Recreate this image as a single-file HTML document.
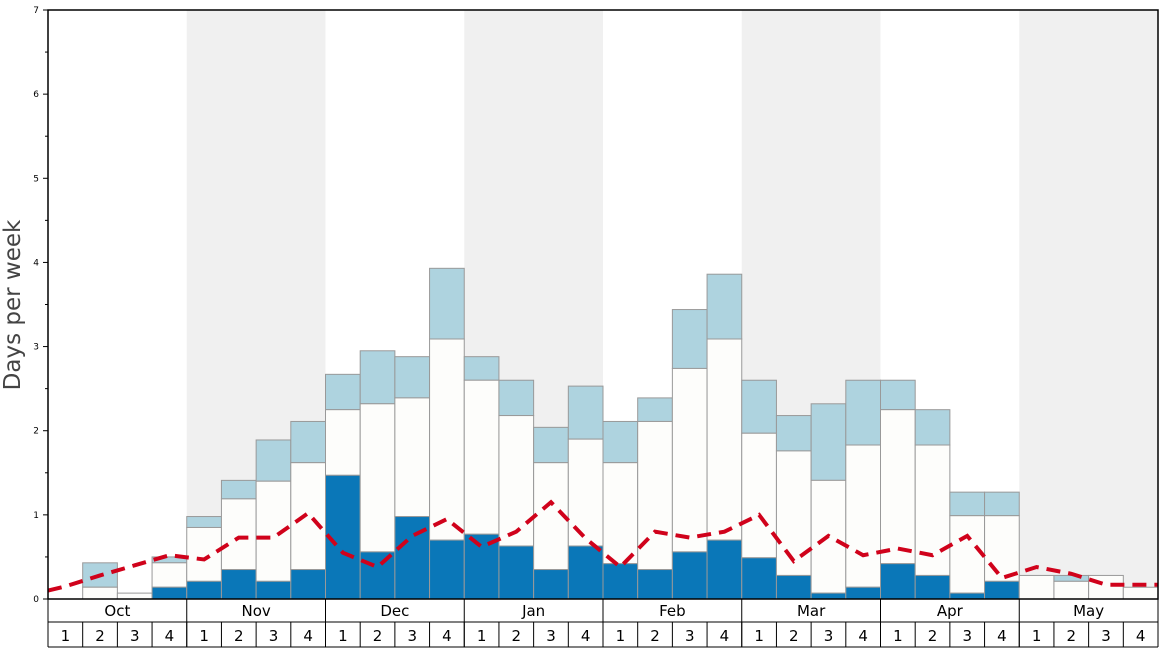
<!DOCTYPE html>
<html><head><meta charset="utf-8"><style>
body{margin:0;background:#fff;}
svg{display:block;font-family:"DejaVu Sans","Liberation Sans",sans-serif;}
</style></head><body>
<svg id="chart" width="1168" height="648">
<g id="bands"></g><g id="bars"></g><g id="line"></g><g id="axes"></g>
</svg>
<script>
const months=["Oct","Nov","Dec","Jan","Feb","Mar","Apr","May"];
const weekLabels=["1","2","3","4"];
const yTicks=[0,1,2,3,4,5,6,7];
const darkVals=[0,0,0,0.14,0.21,0.35,0.21,0.35,1.47,0.56,0.98,0.7,0.77,0.63,0.35,0.63,0.42,0.35,0.56,0.7,0.49,0.28,0.07,0.14,0.42,0.28,0.07,0.21,0,0,0,0];
const whiteTops=[0,0.14,0.07,0.43,0.85,1.19,1.4,1.62,2.25,2.32,2.39,3.09,2.6,2.18,1.62,1.9,1.62,2.11,2.74,3.09,1.97,1.76,1.41,1.83,2.25,1.83,0.99,0.99,0.28,0.21,0.28,0.14];
const lightTops=[0,0.43,0.07,0.5,0.98,1.41,1.89,2.11,2.67,2.95,2.88,3.93,2.88,2.6,2.04,2.53,2.11,2.39,3.44,3.86,2.6,2.18,2.32,2.6,2.6,2.25,1.27,1.27,0.28,0.28,0.28,0.14];
const lineVals=[0.15,0.28,0.4,0.52,0.47,0.73,0.73,1.02,0.55,0.38,0.75,0.95,0.62,0.8,1.15,0.72,0.38,0.8,0.73,0.8,1.0,0.45,0.75,0.52,0.6,0.52,0.75,0.25,0.38,0.3,0.17,0.17];
const X0=48,X1=1158,Y0=599,Y1=10,YMAX=7;
const n=darkVals.length, bw=(X1-X0)/n;
const xs=i=>X0+i*bw;
const ys=v=>Y0-(v/YMAX)*(Y0-Y1);
const NS="http://www.w3.org/2000/svg";
function mk(tag,attrs,parent,text){const e=document.createElementNS(NS,tag);for(const k in attrs)e.setAttribute(k,attrs[k]);if(text!==undefined)e.textContent=text;document.getElementById(parent)?document.getElementById(parent).appendChild(e):parent.appendChild(e);return e;}
// bands
months.forEach((m,i)=>{if(i%2===1){const r=mk('rect',{x:xs(i*4),y:Y1,width:bw*4,height:Y0-Y1,fill:'#f0f0f0'},'bands');

}});
// bars
for(let i=0;i<n;i++){
 const x=xs(i);
 if(lightTops[i]>whiteTops[i]){const r=mk('rect',{x:x,y:ys(lightTops[i]),width:bw,height:ys(whiteTops[i])-ys(lightTops[i]),fill:'#aed3df',stroke:'#999','stroke-width':1},'bars');
 
 }
 if(whiteTops[i]>darkVals[i]){const r=mk('rect',{x:x,y:ys(whiteTops[i]),width:bw,height:ys(darkVals[i])-ys(whiteTops[i]),fill:'#fdfdfb',stroke:'#999','stroke-width':1},'bars');
 
 }
 if(darkVals[i]>0){const r=mk('rect',{x:x,y:ys(darkVals[i]),width:bw,height:Y0-ys(darkVals[i]),fill:'#0a77b8',stroke:'#999','stroke-width':1},'bars');
 
 }
}
// line
let pts=[[X0,ys(0.1)]];
lineVals.forEach((v,i)=>pts.push([xs(i)+bw/2,ys(v)]));
pts.push([X1,ys(lineVals[n-1])]);
const pl=mk('polyline',{points:pts.map(p=>p.join(',')).join(' '),fill:'none',stroke:'#d0021b','stroke-width':4,'stroke-dasharray':'14,8'},'line');


// axes
const fr=mk('rect',{x:X0,y:Y1,width:X1-X0,height:Y0-Y1,fill:'none',stroke:'#000','stroke-width':1.5},'axes');


yTicks.forEach(t=>{
 mk('line',{x1:X0-5,x2:X0,y1:ys(t),y2:ys(t),stroke:'#000'},'axes');
 if(t<7) mk('line',{x1:X0-3,x2:X0,y1:ys(t+0.5),y2:ys(t+0.5),stroke:'#000'},'axes');
 const tx=mk('text',{x:X0-9,y:ys(t)+3,'font-size':9,'text-anchor':'end',fill:'#000'},'axes',String(t));
 
 
});
const yt=mk('text',{x:20,y:305,'font-size':23,'text-anchor':'middle',fill:'#444',transform:'rotate(-90 20 305)'},'axes','Days per week');


// month/week rows
mk('line',{x1:X0,x2:X1,y1:622,y2:622,stroke:'#000'},'axes');
mk('line',{x1:X0,x2:X1,y1:647,y2:647,stroke:'#000'},'axes');
mk('line',{x1:X0,x2:X0,y1:599,y2:647,stroke:'#000'},'axes');
mk('line',{x1:X1,x2:X1,y1:599,y2:647,stroke:'#000'},'axes');
months.forEach((m,mi)=>{
 mk('line',{x1:xs(mi*4),x2:xs(mi*4),y1:599,y2:647,stroke:'#000'},'axes');
 const t=mk('text',{x:xs(mi*4)+bw*2,y:616,'font-size':15,'text-anchor':'middle',fill:'#000'},'axes',m);
 
 
 weekLabels.forEach((w,wi)=>{
  const i=mi*4+wi;
  mk('line',{x1:xs(i),x2:xs(i),y1:622,y2:647,stroke:'#000'},'axes');
  const wt=mk('text',{x:xs(i)+bw/2,y:641,'font-size':15,'text-anchor':'middle',fill:'#000'},'axes',w);
  
  
 });
});
</script>
</body></html>
